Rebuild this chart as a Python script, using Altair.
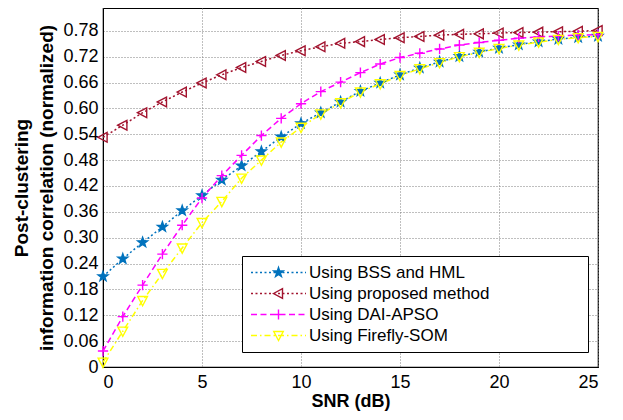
import altair as alt
import pandas as pd

snr = list(range(26))
series_names = ["Using BSS and HML", "Using proposed method", "Using DAI-APSO", "Using Firefly-SOM"]
bss = [0.210, 0.251, 0.289, 0.325, 0.363, 0.398, 0.434, 0.467, 0.500, 0.534, 0.565, 0.590, 0.615,
       0.640, 0.659, 0.678, 0.694, 0.708, 0.721, 0.731, 0.740, 0.748, 0.755, 0.761, 0.765, 0.768]
proposed = [0.533, 0.561, 0.590, 0.615, 0.638, 0.659, 0.678, 0.695, 0.709, 0.723, 0.734, 0.743, 0.751,
            0.755, 0.760, 0.764, 0.767, 0.770, 0.772, 0.773, 0.775, 0.776, 0.777, 0.778, 0.779, 0.781]
dai = [0.037, 0.117, 0.190, 0.262, 0.329, 0.392, 0.444, 0.491, 0.537, 0.577, 0.611, 0.639, 0.661,
       0.683, 0.703, 0.718, 0.728, 0.738, 0.747, 0.753, 0.758, 0.763, 0.766, 0.768, 0.770, 0.771]
firefly = [0.011, 0.083, 0.154, 0.217, 0.276, 0.335, 0.384, 0.438, 0.480, 0.522, 0.556, 0.587, 0.613,
           0.638, 0.657, 0.676, 0.692, 0.706, 0.720, 0.730, 0.739, 0.747, 0.754, 0.760, 0.764, 0.767]
y_ticks = [0, 0.06, 0.12, 0.18, 0.24, 0.30, 0.36, 0.42, 0.48, 0.54, 0.60, 0.66, 0.72, 0.78]
x_ticks = [0, 5, 10, 15, 20, 25]

# legend labels padded (nbsp + zero-width space so the padding is not trimmed)
PAD = "\u00a0" * 19 + "\u200b"
labels = [n + PAD for n in series_names]

rows = []
for name, vals in zip(labels, [bss, proposed, dai, firefly]):
    for s, v in zip(snr, vals):
        rows.append({"snr": s, "value": v, "series": name})
df = pd.DataFrame(rows)

colors = ["#0072BD", "#A2142F", "#FF00FF", "#FFFF00"]
fills = ["#0072BD", "transparent", "transparent", "transparent"]
star = "M0,-1L0.235,-0.324L0.951,-0.309L0.380,0.124L0.588,0.809L0,0.4L-0.588,0.809L-0.380,0.124L-0.951,-0.309L-0.235,-0.324Z"
tri_left = "M-1,0L0.8,-0.95L0.8,0.95Z"
plus = "M-1,0L1,0M0,-1L0,1"
tri_down = "M0,1L-0.95,-0.8L0.95,-0.8Z"
shapes = [star, tri_left, plus, tri_down]
dashes = [[2, 2.5], [2, 2.5], [6, 3.5], [6, 3, 1.5, 3]]


def dash_path(pattern_px, unit=5.0, x0=-5.5, x1=5.5):
    pat = [p / unit for p in pattern_px]
    segs = []
    xpos = x0
    i = 0
    while xpos < x1:
        d = pat[i % len(pat)]
        if i % 2 == 0:
            segs.append("M%.3f,0L%.3f,0" % (xpos, min(xpos + d, x1)))
        xpos += d
        i += 1
    return "".join(segs)


legend_shapes = [dash_path(d) + s for d, s in zip(dashes, shapes)]

FONT = "Liberation Sans"

x = alt.X("snr:Q", title="SNR (dB)",
          scale=alt.Scale(domain=[0, 25], nice=False),
          axis=alt.Axis(values=x_ticks, labelFontSize=18, titleFontSize=18, titleFontWeight="bold",
                        titlePadding=1, labelPadding=6))
y = alt.Y("value:Q", title=["Post-clustering", "information correlation (normalized)"],
          scale=alt.Scale(domain=[0, 0.833], nice=False, zero=True),
          axis=alt.Axis(values=y_ticks, labelFontSize=18, titleFontSize=19, titleFontWeight="bold",
                        titleLineHeight=25,
                        labelExpr="datum.value == 0 ? '0' : format(datum.value, '.2f')",
                        titlePadding=6, labelPadding=5))

leg = alt.Legend(orient="none", legendX=139, legendY=248)


def cscale():
    return alt.Scale(domain=labels, range=colors)


lines = alt.Chart(df).mark_line(strokeWidth=1.5).encode(
    x=x, y=y,
    color=alt.Color("series:N", scale=cscale(), legend=None),
    strokeDash=alt.StrokeDash("series:N", scale=alt.Scale(domain=labels, range=dashes), legend=None),
    detail="series:N")

points = alt.Chart(df).mark_point(size=105, strokeWidth=1.4, opacity=1).encode(
    x=x, y=y,
    color=alt.Color("series:N", scale=cscale(), legend=None),
    shape=alt.Shape("series:N", scale=alt.Scale(domain=labels, range=shapes), legend=None),
    fill=alt.Fill("series:N", scale=alt.Scale(domain=labels, range=fills), legend=None))

legend_layer = alt.Chart(df).transform_filter("false").mark_point(
    size=100, strokeWidth=1.4, opacity=1).encode(
    x=x, y=y,
    color=alt.Color("series:N", scale=cscale(), title=None, legend=leg),
    shape=alt.Shape("series:N", scale=alt.Scale(domain=labels, range=legend_shapes), title=None,
                    legend=leg),
    fill=alt.Fill("series:N", scale=alt.Scale(domain=labels, range=fills), title=None, legend=leg))

chart = alt.layer(lines, points, legend_layer).resolve_scale(
    color="independent", shape="independent", fill="independent", strokeDash="independent"
).properties(
    width=495, height=359,
    autosize=alt.AutoSizeParams(type="none"),
    padding={"left": 95, "top": 0, "right": 17, "bottom": 45},
).configure(font=FONT).configure_axis(
    labelFont=FONT, titleFont=FONT, labelColor="black", titleColor="black",
    domainColor="black", domainWidth=1, ticks=False,
    gridColor="#7f7f7f", gridDash=[1, 2], gridWidth=1, gridOpacity=1,
).configure_view(stroke="black", strokeWidth=1.2).configure_legend(
    fillColor="white", strokeColor="black", padding=8, labelFont=FONT, labelFontSize=17,
    labelColor="black", symbolSize=100, symbolStrokeWidth=1.4, rowPadding=3,
    symbolOffset=20, labelOffset=22, labelLimit=600,
)

chart.save("out.html", embed_options={"renderer": "svg", "actions": False})
